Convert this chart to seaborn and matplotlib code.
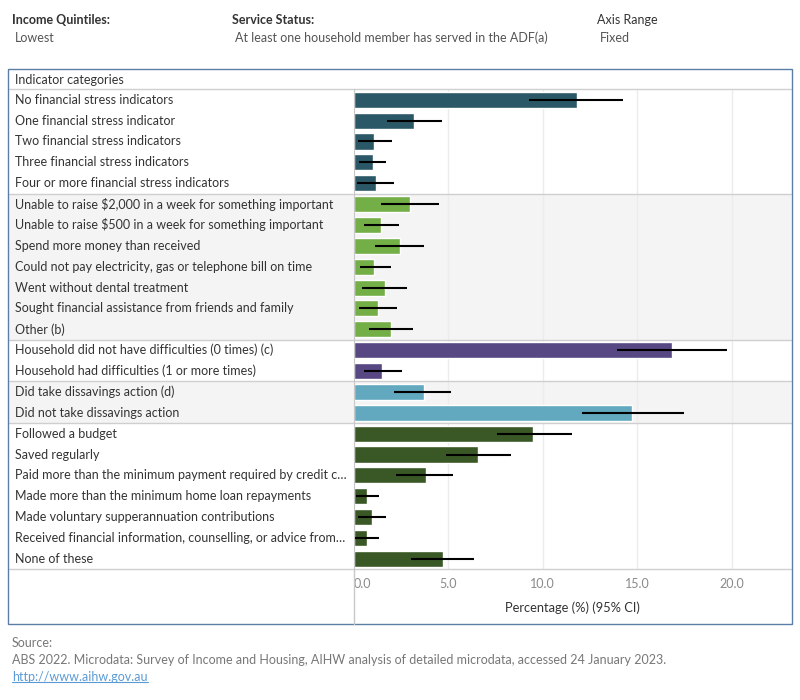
import pandas as pd
import matplotlib
matplotlib.use('Agg')
import matplotlib.pyplot as plt
import matplotlib.transforms as mtransforms
from matplotlib.patches import Rectangle
from matplotlib.lines import Line2D
import seaborn as sns

# data
categories = [
    'No financial stress indicators',
    'One financial stress indicator',
    'Two financial stress indicators',
    'Three financial stress indicators',
    'Four or more financial stress indicators',
    'Unable to raise $2,000 in a week for something important',
    'Unable to raise $500 in a week for something important',
    'Spend more money than received',
    'Could not pay electricity, gas or telephone bill on time',
    'Went without dental treatment',
    'Sought financial assistance from friends and family',
    'Other (b)',
    'Household did not have difficulties (0 times) (c)',
    'Household had difficulties (1 or more times)',
    'Did take dissavings action (d)',
    'Did not take dissavings action',
    'Followed a budget',
    'Saved regularly',
    'Paid more than the minimum payment required by credit c\u2026',
    'Made more than the minimum home loan repayments',
    'Made voluntary supperannuation contributions',
    'Received financial information, counselling, or advice from\u2026',
    'None of these',
]
groups = (['stress'] * 5 + ['indicator'] * 7 + ['difficulty'] * 2
          + ['dissaving'] * 2 + ['behaviour'] * 7)
values = [11.8, 3.2, 1.1, 1.0, 1.2,
          3.0, 1.45, 2.45, 1.1, 1.65, 1.3, 1.95,
          16.85, 1.5,
          3.7, 14.75,
          9.5, 6.6, 3.8, 0.7, 0.95, 0.7, 4.7]
ci_low = [9.3, 1.75, 0.25, 0.3, 0.2,
          1.45, 0.55, 1.15, 0.35, 0.45, 0.3, 0.8,
          13.95, 0.55,
          2.15, 12.1,
          7.6, 4.9, 2.25, 0.1, 0.25, 0.05, 3.05]
ci_high = [14.25, 4.65, 2.05, 1.7, 2.15,
           4.5, 2.4, 3.7, 1.95, 2.8, 2.3, 3.15,
           19.75, 2.55,
           5.15, 17.45,
           11.55, 8.3, 5.25, 1.35, 1.7, 1.35, 6.35]
group_colors = {
    'stress': '#2b5867',
    'indicator': '#73ae47',
    'difficulty': '#574884',
    'dissaving': '#62a8bf',
    'behaviour': '#395825',
}
x_ticks = [0, 5, 10, 15, 20]
x_tick_labels = ['0.0', '5.0', '10.0', '15.0', '20.0']

df = pd.DataFrame({'category': categories, 'group': groups, 'value': values,
                   'lo': ci_low, 'hi': ci_high})

sns.set_style('white')
plt.rcParams['font.family'] = ['Lato', 'DejaVu Sans']
FS = 9

W, H = 800, 700
fig = plt.figure(figsize=(8, 7), dpi=100)


def fx(x):
    return x / W


def fy(y):
    return 1 - y / H


# plot area in pixels
x0, x1 = 353.7, 790.7
y0, y1 = 89.3, 569.3
ax = fig.add_axes([fx(x0), fy(y1), (x1 - x0) / W, (y1 - y0) / H])
ax.set_facecolor('none')

sns.barplot(data=df, x='value', y='category', hue='group', order=categories,
            palette=group_colors, dodge=False, width=0.77, saturation=1,
            errorbar=None, legend=False, ax=ax, zorder=2)

n = len(categories)
ax.hlines(range(n), df['lo'], df['hi'], color='black', lw=1.5, zorder=3)

ax.set_yticks([])
ax.set_ylabel('')
ax.set_xlabel('')
ax.set_xticks(x_ticks)
ax.set_xticklabels(x_tick_labels)
ax.tick_params(axis='x', length=0, pad=6, labelsize=FS, labelcolor='#8a8a8a')
ax.get_xticklabels()[0].set_horizontalalignment('left')
ax.xaxis.grid(True, color='#ececec', lw=1)
ax.set_axisbelow(True)
for side in ['top', 'right', 'bottom']:
    ax.spines[side].set_visible(False)
ax.spines['left'].set_color('#c8c8c8')

blend = mtransforms.blended_transform_factory(fig.transFigure, ax.transData)

# grey bands behind groups 2 and 4
for start, count in [(5, 7), (14, 2)]:
    ax.add_patch(Rectangle((fx(9), start - 0.5), fx(791) - fx(9), count,
                           transform=blend, facecolor='#f4f4f4',
                           edgecolor='none', zorder=0, clip_on=False))

# separator lines
for b in [-0.5, 4.5, 11.5, 13.5, 15.5, n - 0.5]:
    ax.add_line(Line2D([fx(9), fx(791)], [b, b], transform=blend,
                       color='#cfcfcf', lw=1, clip_on=False, zorder=1))

# category labels
for i, cat in enumerate(categories):
    ax.text(fx(15), i, cat, transform=blend, ha='left', va='center',
            fontsize=FS, color='#333333')

ax.set_xlim(0, 23.12)
ax.set_ylim(n - 0.5, -0.5)

# frame pieces
fig.add_artist(Line2D([fx(x0), fx(x0)], [fy(y1), fy(624)], color='#c8c8c8', lw=1))
fig.add_artist(Rectangle((fx(8), fy(624)), fx(792) - fx(8), (624 - 69) / H,
                         transform=fig.transFigure, fill=False,
                         edgecolor='#5a7ea6', lw=1))

fig.text(fx(15), fy(80), 'Indicator categories', ha='left', va='center',
         fontsize=FS, color='#333333')
fig.text(fx((x0 + x1) / 2), fy(608), 'Percentage (%) (95% CI)', ha='center',
         va='center', fontsize=9.3, color='#333333')

# filter header
fig.text(fx(12), fy(20), 'Income Quintiles:', fontsize=FS, fontweight='bold',
         color='#333333', va='center')
fig.text(fx(15), fy(38), 'Lowest', fontsize=FS, color='#555555', va='center')
fig.text(fx(232), fy(20), 'Service Status:', fontsize=FS, fontweight='bold',
         color='#333333', va='center')
fig.text(fx(235), fy(38), 'At least one household member has served in the ADF(a)',
         fontsize=FS, color='#555555', va='center')
fig.text(fx(597), fy(20), 'Axis Range', fontsize=FS, color='#333333', va='center')
fig.text(fx(600), fy(38), 'Fixed', fontsize=FS, color='#555555', va='center')

# footer
fig.text(fx(12), fy(643), 'Source:', fontsize=FS, color='#777777', va='center')
fig.text(fx(12), fy(660), 'ABS 2022. Microdata: Survey of Income and Housing, AIHW '
         'analysis of detailed microdata, accessed 24 January 2023.',
         fontsize=FS, color='#777777', va='center')
link = fig.text(fx(12), fy(677), 'http://www.aihw.gov.au', fontsize=FS,
                color='#5b9bd5', va='center')
fig.canvas.draw()
bb = link.get_window_extent().transformed(fig.transFigure.inverted())
fig.add_artist(Line2D([bb.x0, bb.x1], [bb.y0 + 0.001, bb.y0 + 0.001],
                      color='#5b9bd5', lw=0.8))

fig.savefig('out.png', dpi=100)
